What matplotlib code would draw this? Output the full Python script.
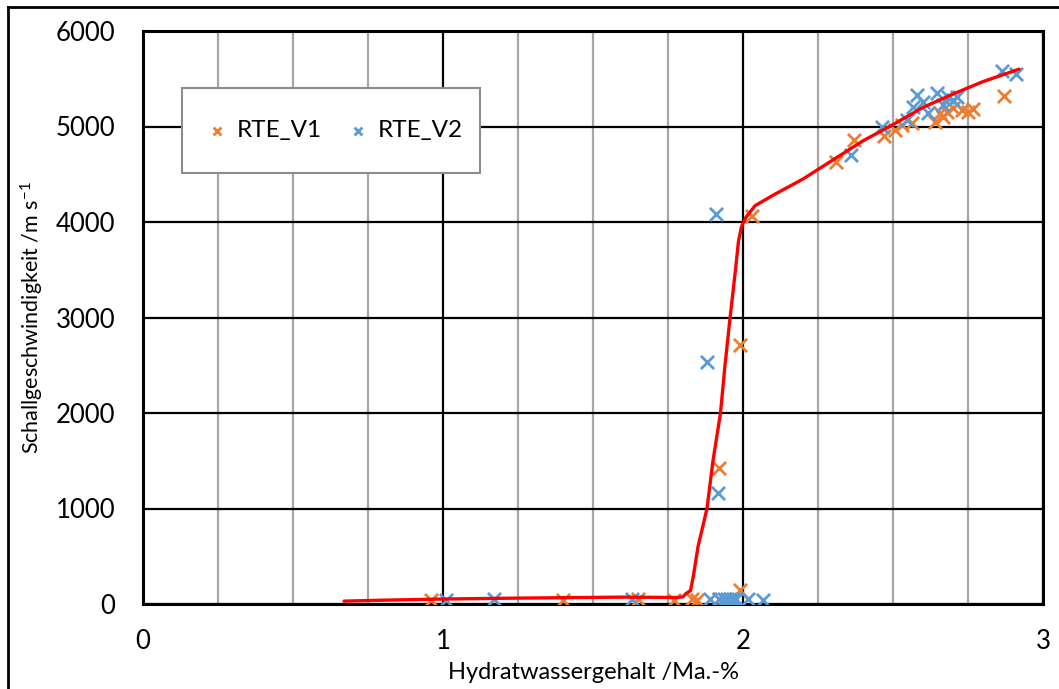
import matplotlib
matplotlib.use("Agg")
import matplotlib.pyplot as plt
from matplotlib.lines import Line2D
from matplotlib.patches import Rectangle
from matplotlib.ticker import MultipleLocator

plt.rcParams['font.family'] = ['Lato', 'DejaVu Sans']
plt.rcParams['mathtext.fontset'] = 'custom'
plt.rcParams['mathtext.rm'] = 'Lato'
plt.rcParams['mathtext.default'] = 'rm'

# Messreihe RTE_V1
v1_x = [0.96, 1.40, 1.65, 1.77, 1.83, 1.845, 1.92, 1.99, 1.97,
        1.92, 1.99, 2.03,
        2.31, 2.37, 2.47, 2.507, 2.53, 2.563, 2.64, 2.657, 2.667, 2.68,
        2.70, 2.73, 2.75, 2.767, 2.87]
v1_y = [40, 45, 55, 40, 50, 45, 50, 150, 45,
        1424, 2712, 4063,
        4628, 4859, 4900, 4963, 5016, 5036, 5047, 5141, 5100, 5152,
        5190, 5173, 5152, 5183, 5319]

# Messreihe RTE_V2
v2_x = [1.01, 1.17, 1.63, 1.89, 1.92, 1.935, 1.945, 1.955, 1.965, 1.975,
        2.015, 2.065,
        1.917, 1.88, 1.91,
        2.36, 2.463, 2.547, 2.567, 2.58, 2.60, 2.617, 2.647, 2.667, 2.683,
        2.70, 2.713, 2.863, 2.91]
v2_y = [40, 55, 55, 50, 50, 50, 50, 50, 50, 50,
        50, 45,
        1162, 2534, 4084,
        4702, 4995, 5068, 5204, 5330, 5257, 5141, 5351, 5225, 5309,
        5277, 5309, 5581, 5550]

# Ausgleichskurve
fit_x = [0.67, 0.8, 1.0, 1.2, 1.4, 1.6, 1.7, 1.78, 1.80, 1.81, 1.825,
         1.835, 1.85, 1.88, 1.90, 1.925, 1.94, 1.957, 1.975, 1.985, 1.995,
         2.01, 2.04, 2.1, 2.2, 2.3, 2.4, 2.5, 2.6, 2.7, 2.8, 2.92]
fit_y = [30, 40, 52, 60, 66, 72, 70, 68, 75, 110, 140,
         300, 600, 1000, 1500, 2000, 2500, 3000, 3500, 3800, 3950,
         4050, 4170, 4280, 4450, 4650, 4850, 5020, 5200, 5340, 5470, 5600]

x_ticks = [0, 1, 2, 3]
y_ticks = [0, 1000, 2000, 3000, 4000, 5000, 6000]

W, H = 1059, 689
fig = plt.figure(figsize=(W / 100, H / 100), dpi=100)
ax = fig.add_axes([143 / W, 85 / H, 900 / W, 573 / H])

ax.set_xlim(0, 3)
ax.set_ylim(0, 6000)
ax.set_xticks(x_ticks)
ax.set_yticks(y_ticks)
ax.xaxis.set_minor_locator(MultipleLocator(0.25))

ax.grid(which='minor', axis='x', color='#A6A6A6', linewidth=1.6)
ax.grid(which='major', axis='both', color='black', linewidth=1.6)
ax.set_axisbelow(True)

orange = '#ED7D31'
blue = '#5B9BD5'
ax.scatter(v1_x, v1_y, marker='x', s=90, linewidths=2.0, color=orange,
           label='RTE_V1', zorder=3)
ax.scatter(v2_x, v2_y, marker='x', s=90, linewidths=2.0, color=blue,
           label='RTE_V2', zorder=3)
ax.plot(fit_x, fit_y, color='#FF0000', linewidth=2.4, zorder=4,
        solid_capstyle='round')

for s in ax.spines.values():
    s.set_linewidth(2.2)
    s.set_color('black')

ax.tick_params(which='both', length=0, labelsize=18.5)
ax.tick_params(axis='x', pad=18)
ax.tick_params(axis='y', pad=20)

ax.set_xlabel('Hydratwassergehalt /Ma.-%', fontsize=17, labelpad=6)
ax.set_ylabel('Schallgeschwindigkeit /m s$^{-1}$', fontsize=15.5)
ax.yaxis.set_label_coords((46 - 143) / 900, 0.5)

# Legendenkasten
box = Rectangle((182 / W, 1 - 173 / H), 298 / W, 85 / H,
                transform=fig.transFigure, facecolor='white',
                edgecolor='#8C8C8C', linewidth=1.5, zorder=5, clip_on=False)
ax.add_patch(box)
leg = ax.legend(loc='center', bbox_to_anchor=(331 / W, 1 - 130.5 / H),
                bbox_transform=fig.transFigure,
                ncol=2, fontsize=17.5, frameon=False, markerscale=0.6,
                handlelength=1.5, handletextpad=0.05, columnspacing=0.75,
                borderpad=0, borderaxespad=0)
leg.set_zorder(6)

# Rahmen um die Grafik
fig.add_artist(Line2D([8 / W, 1], [1 - 7 / H, 1 - 7 / H],
                      transform=fig.transFigure, color='black', linewidth=2))
fig.add_artist(Line2D([8 / W, 8 / W], [0, 1 - 7 / H],
                      transform=fig.transFigure, color='black', linewidth=2))

fig.savefig('out.png', dpi=100)
